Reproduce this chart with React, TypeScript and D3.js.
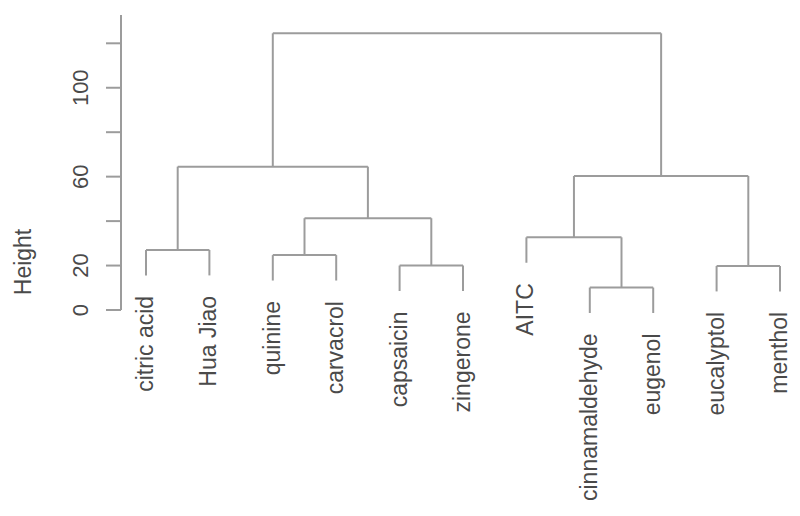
import React from "react";
import * as d3 from "d3";

const leaves = [
  "citric acid", "Hua Jiao", "quinine", "carvacrol", "capsaicin", "zingerone",
  "AITC", "cinnamaldehyde", "eugenol", "eucalyptol", "menthol",
];
// R hclust-style merge table: negative = leaf (1-based), positive = earlier merge (1-based)
const merges: [number, number][] = [
  [-1, -2], [-3, -4], [-5, -6], [2, 3], [1, 4],
  [-8, -9], [-7, 6], [-10, -11], [7, 8], [5, 9],
];
const heights = [27.0, 24.7, 20.0, 41.3, 64.5, 10.1, 32.7, 19.8, 60.3, 124.5];
const tickValues = [0, 20, 40, 60, 80, 100, 120];
const tickLabels = [0, 20, 60, 100];
const yTitle = "Height";

const W = 800, H = 516;
const FONT = "'Liberation Sans', Arial, Helvetica, sans-serif";
const LINE = "#9c9c9c";
const TEXT = "#4a4a4a";

export default function App() {
  const x = d3.scalePoint<string>().domain(leaves).range([146, 780]);
  const y = d3.scaleLinear().domain([0, 120]).range([310, 43.3]);
  const hang = 0.1 * ((d3.max(heights) as number) - (d3.min(heights) as number));
  const axisX = 121;
  const axisTop = 15;

  const nodeX: number[] = [];
  const segs: { x1: number; y1: number; x2: number; y2: number }[] = [];
  const leafBottom: Record<string, number> = {};
  merges.forEach((m, i) => {
    const h = heights[i];
    const cx = m.map((c) => (c < 0 ? (x(leaves[-c - 1]) as number) : nodeX[c - 1]));
    const cy = m.map((c) => (c < 0 ? h - hang : heights[c - 1]));
    m.forEach((c, k) => {
      if (c < 0) leafBottom[leaves[-c - 1]] = cy[k];
      segs.push({ x1: cx[k], y1: y(cy[k]), x2: cx[k], y2: y(h) });
    });
    segs.push({ x1: cx[0], y1: y(h), x2: cx[1], y2: y(h) });
    nodeX[i] = (cx[0] + cx[1]) / 2;
  });

  return (
    <svg width={W} height={H} style={{ position: "absolute", left: 0, top: 0, background: "#fff" }}>
      <g fill="none" stroke={LINE} strokeWidth={2}>
        {segs.map((s, i) => (
          <line key={i} x1={s.x1} y1={s.y1} x2={s.x2} y2={s.y2} />
        ))}
        <line x1={axisX} y1={axisTop} x2={axisX} y2={y(0)} />
        {tickValues.map((t) => (
          <line key={t} x1={axisX - 15} y1={y(t)} x2={axisX} y2={y(t)} />
        ))}
      </g>
      <g fill={TEXT} fontFamily={FONT}>
        {tickLabels.map((t) => (
          <text key={t} transform={`translate(88,${y(t)}) rotate(-90)`} textAnchor="middle" fontSize={22}>
            {t}
          </text>
        ))}
        <text transform={`translate(31,262) rotate(-90)`} textAnchor="middle" fontSize={23}>
          {yTitle}
        </text>
        {leaves.map((l) => (
          <text
            key={l}
            transform={`translate(${(x(l) as number) + 7},${y(leafBottom[l]) + 20.5}) rotate(-90)`}
            textAnchor="end"
            fontSize={23}
          >
            {l}
          </text>
        ))}
      </g>
    </svg>
  );
}
